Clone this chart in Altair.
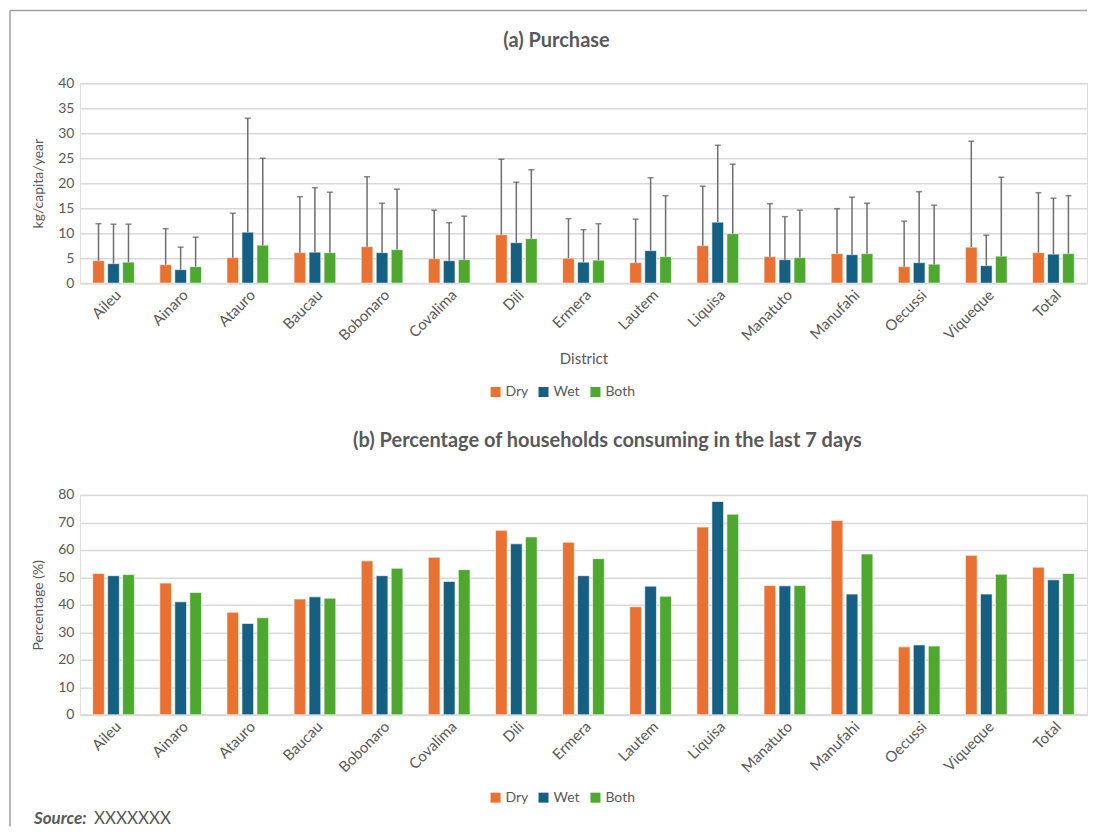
import altair as alt
import pandas as pd

districts = ["Aileu", "Ainaro", "Atauro", "Baucau", "Bobonaro", "Covalima", "Dili",
             "Ermera", "Lautem", "Liquisa", "Manatuto", "Manufahi", "Oecussi",
             "Viqueque", "Total"]
seasons = ["Dry", "Wet", "Both"]
colors = ["#E97132", "#156082", "#4EA72E"]

# (a) Purchase, kg/capita/year (mean and upper end of error bar)
purchase_dry = [4.5, 3.7, 5.1, 6.1, 7.3, 4.9, 9.7, 5.0, 4.1, 7.5, 5.3, 5.9, 3.3, 7.2, 6.1]
purchase_wet = [3.9, 2.7, 10.2, 6.2, 6.1, 4.5, 8.1, 4.2, 6.5, 12.2, 4.7, 5.7, 4.1, 3.5, 5.8]
purchase_both = [4.2, 3.3, 7.6, 6.1, 6.7, 4.7, 8.9, 4.6, 5.3, 9.9, 5.1, 5.9, 3.8, 5.4, 5.9]
upper_dry = [11.9, 10.9, 14.0, 17.3, 21.3, 14.6, 24.8, 12.9, 12.8, 19.4, 15.9, 14.9, 12.4, 28.4, 18.1]
upper_wet = [11.8, 7.2, 33.0, 19.1, 16.0, 12.1, 20.2, 10.7, 21.1, 27.6, 13.3, 17.2, 18.3, 9.6, 17.0]
upper_both = [11.8, 9.2, 25.0, 18.2, 18.8, 13.4, 22.7, 11.9, 17.5, 23.8, 14.6, 16.0, 15.6, 21.2, 17.5]

# (b) Percentage of households consuming in the last 7 days
pct_dry = [51.4, 47.9, 37.3, 42.1, 56.0, 57.3, 67.1, 62.8, 39.3, 68.3, 47.0, 70.7, 24.7, 58.0, 53.7]
pct_wet = [50.6, 41.1, 33.2, 42.9, 50.6, 48.5, 62.2, 50.6, 46.8, 77.6, 46.9, 43.9, 25.4, 43.9, 49.1]
pct_both = [51.0, 44.5, 35.3, 42.4, 53.3, 52.8, 64.7, 56.8, 43.1, 73.0, 47.0, 58.5, 25.0, 51.1, 51.4]

title_a = "(a) Purchase"
title_b = "(b) Percentage of households consuming in the last 7 days"

rows_a = []
for s, vals, ups in zip(seasons, [purchase_dry, purchase_wet, purchase_both],
                        [upper_dry, upper_wet, upper_both]):
    for d, v, u in zip(districts, vals, ups):
        rows_a.append({"District": d, "Season": s, "Value": v, "Upper": u})
df_a = pd.DataFrame(rows_a)

rows_b = []
for s, vals in zip(seasons, [pct_dry, pct_wet, pct_both]):
    for d, v in zip(districts, vals):
        rows_b.append({"District": d, "Season": s, "Value": v})
df_b = pd.DataFrame(rows_b)

FONT = "Lato"
GRAY = "#595959"
W = 1008
H1 = 200
H2 = 220


def x_enc(title):
    return alt.X(
        "District:N", sort=districts, title=title,
        scale=alt.Scale(paddingInner=0.33, paddingOuter=0.165),
        axis=alt.Axis(labelAngle=-45, labelFontSize=15, labelColor=GRAY, labelFont=FONT,
                      labelPadding=4, ticks=False, domainColor="#d9d9d9", domainWidth=2,
                      titleFontSize=15, titleFontWeight="normal", titleColor=GRAY,
                      titleFont=FONT, titlePadding=8),
    )


xoff = alt.XOffset("Season:N", sort=seasons,
                   scale=alt.Scale(paddingInner=0.22, paddingOuter=0.11))


def y_enc(field, title, values, dom):
    return alt.Y(
        field, scale=alt.Scale(domain=dom, nice=False),
        axis=alt.Axis(title=title, values=values, labelFontSize=14, labelColor=GRAY,
                      labelFont=FONT, labelPadding=6, ticks=False, domain=False,
                      gridColor="#d9d9d9", gridWidth=1.5, titleFontSize=14,
                      titleFontWeight="normal", titleColor=GRAY, titleFont=FONT,
                      titlePadding=12, labelOverlap=False),
    )


def color_enc(lx, ly):
    return alt.Color(
        "Season:N", sort=seasons,
        scale=alt.Scale(domain=seasons, range=colors),
        legend=alt.Legend(orient="none", legendX=lx, legendY=ly, direction="horizontal",
                          title=None, symbolType="square", symbolSize=100,
                          symbolStrokeWidth=0, labelFontSize=14, labelColor=GRAY,
                          labelFont=FONT, columnPadding=8, labelOffset=3),
    )


def text_layer(txt, x, y, size, weight="normal", style="normal", align="center"):
    return alt.Chart(pd.DataFrame({"t": [txt]})).mark_text(
        align=align, baseline="alphabetic", fontSize=size, fontWeight=weight,
        fontStyle=style, color=GRAY, font=FONT).encode(
        text="t:N", x=alt.value(x), y=alt.value(y))


one = pd.DataFrame({"k": [0]})
ya_vals = list(range(0, 41, 5))
yb_vals = list(range(0, 81, 10))

# ---------- panel (a) ----------
base_a = alt.Chart(df_a)
bars_a = base_a.mark_bar(stroke="white", strokeWidth=1, strokeOpacity=0.6).encode(
    x=x_enc("District"),
    xOffset=xoff,
    y=y_enc("Value:Q", "kg/capita/year", ya_vals, [0, 40]),
    color=color_enc(409, 302),
)
err_a = base_a.mark_rule(color="#6e6e6e", strokeWidth=1.5).encode(
    x=x_enc("District"),
    xOffset=xoff,
    y=y_enc("Value:Q", "kg/capita/year", ya_vals, [0, 40]),
    y2="Upper:Q",
)
cap_a = base_a.mark_tick(color="#595959", thickness=1.5, size=6, orient="horizontal").encode(
    x=x_enc("District"),
    xOffset=xoff,
    y=y_enc("Upper:Q", "kg/capita/year", ya_vals, [0, 40]),
)
border_top = alt.Chart(one).mark_rule(color="#a0a0a0", strokeWidth=1.5).encode(
    x=alt.value(-70), x2=alt.value(W), y=alt.value(-73))
border_left = alt.Chart(one).mark_rule(color="#a0a0a0", strokeWidth=1.5).encode(
    x=alt.value(-70), y=alt.value(-73), y2=alt.value(744))
ttl_a = text_layer(title_a, 477, -36, 20, weight="bold")

panel_a = alt.layer(bars_a, err_a, cap_a, border_top, border_left, ttl_a).properties(
    width=W, height=H1,
)

# ---------- panel (b) ----------
base_b = alt.Chart(df_b)
bars_b = base_b.mark_bar(stroke="white", strokeWidth=1, strokeOpacity=0.6).encode(
    x=x_enc(None),
    xOffset=xoff,
    y=y_enc("Value:Q", "Percentage (%)", yb_vals, [0, 80]),
    color=color_enc(409, 296),
)
ttl_b = text_layer(title_b, 528, -48, 20, weight="bold")
src1 = text_layer("Source:", -46, 329, 17, weight="bold", style="italic", align="left")
src2 = text_layer("XXXXXXX", 14, 329, 17, align="left")

panel_b = alt.layer(bars_b, ttl_b, src1, src2).properties(width=W, height=H2)

chart = alt.vconcat(panel_a, panel_b, spacing=212, bounds="flush").resolve_legend(
    color="independent"
).properties(
    padding={"left": 0, "top": 0, "right": 0, "bottom": 0},
).configure_view(stroke=None).configure(font=FONT)

chart.save("out.html", embed_options={"renderer": "svg", "actions": False})
